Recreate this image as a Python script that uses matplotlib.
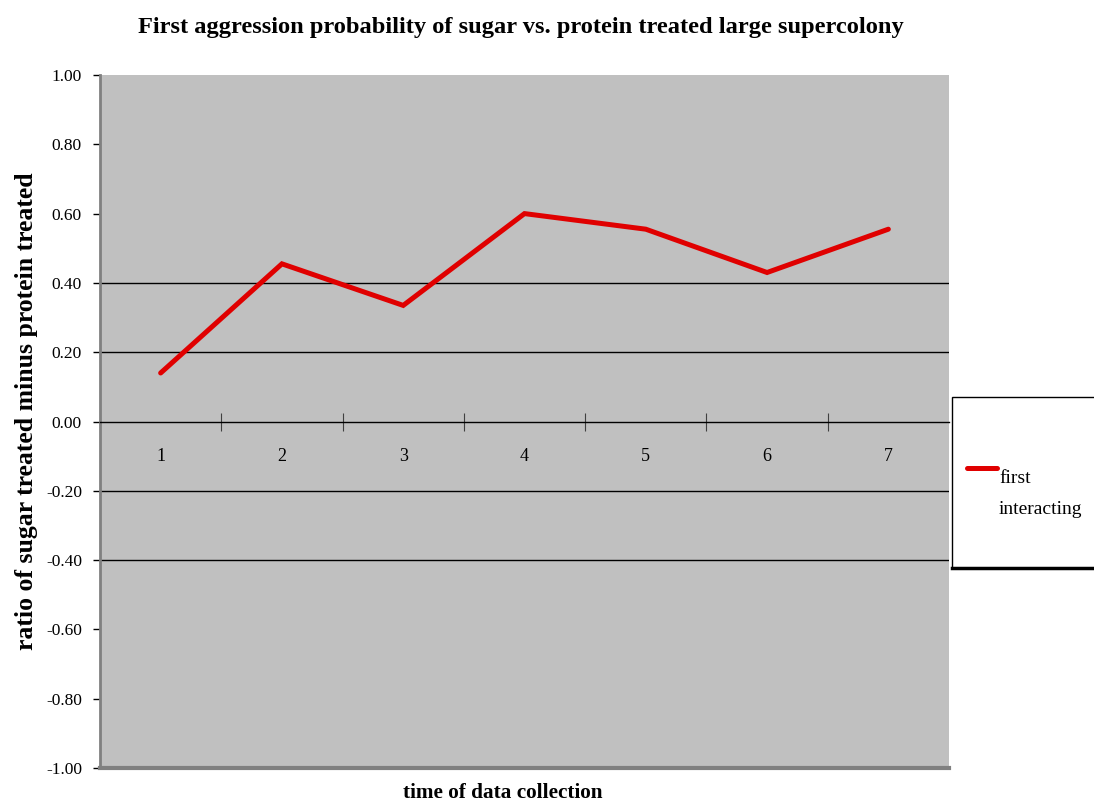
import matplotlib
matplotlib.use("Agg")
import matplotlib.pyplot as plt
from matplotlib.patches import Rectangle
from matplotlib.lines import Line2D

# collection rounds and sugar-minus-protein ratio of first aggression
rounds = [1, 2, 3, 4, 5, 6, 7]
ratio = [0.14, 0.455, 0.335, 0.60, 0.555, 0.43, 0.555]
series_label = "first\ninteracting"

y_ticks = [-1.0, -0.8, -0.6, -0.4, -0.2, 0.0, 0.2, 0.4, 0.6, 0.8, 1.0]
grid_levels = [-0.4, -0.2, 0.2, 0.4]

plt.rcParams["font.family"] = ["Liberation Serif", "DejaVu Serif"]

W, H = 1094, 810
fig = plt.figure(figsize=(W / 100, H / 100), dpi=100)
fig.patch.set_facecolor("white")

# plot area in pixel units
left, right, top, bottom = 100, 949, 75, 768
ax = fig.add_axes([left / W, 1 - bottom / H, (right - left) / W, (bottom - top) / H])
ax.set_facecolor("#C0C0C0")

ax.set_ylim(-1.0, 1.0)
ax.set_xlim(rounds[0] - 0.5, rounds[-1] + 0.5)

for lvl in grid_levels:
    ax.axhline(lvl, color="black", lw=1.0, zorder=1)

ax.plot(rounds, ratio, color="#E00000", lw=3.6, solid_capstyle="round",
        solid_joinstyle="miter", zorder=3)

# category axis sits on y = 0 with ticks between categories
ax.spines["bottom"].set_position(("data", 0))
ax.spines["bottom"].set_color("black")
ax.spines["bottom"].set_linewidth(1.0)
ax.spines["top"].set_visible(False)
ax.spines["right"].set_visible(False)
ax.spines["left"].set_color("#808080")
ax.spines["left"].set_linewidth(2.0)

ax.set_xticks([r + 0.5 for r in rounds[:-1]])
ax.set_xticklabels([])
ax.tick_params(axis="x", which="major", direction="inout", length=13,
               width=0.8, color="#404040")
ax.set_xticks(rounds, minor=True)
ax.set_xticklabels([str(r) for r in rounds], minor=True)
ax.tick_params(axis="x", which="minor", length=0, pad=19, labelsize=13)

ax.set_yticks(y_ticks)
ax.set_yticklabels([f"{v:.2f}" for v in y_ticks])
ax.tick_params(axis="y", direction="out", length=5, width=1.0, color="black",
               labelsize=12.5, pad=8)

# heavy lower border of the plot area
ax.axhline(-1.0, color="#808080", lw=3.0, clip_on=False, zorder=4)

fig.text(521 / W, 1 - 27 / H, "First aggression probability of sugar vs. protein treated large supercolony",
         ha="center", va="center", fontsize=17.6, fontweight="bold")
fig.text(27 / W, 1 - 411 / H, "ratio of sugar treated minus protein treated",
         ha="center", va="center", rotation=90, fontsize=18.5, fontweight="bold")
fig.text(503 / W, 1 - 793 / H, "time of data collection",
         ha="center", va="center", fontsize=15.3, fontweight="bold")

# legend box drawn in figure pixels
lx0, ly0, lx1, ly1 = 952, 397, 1100, 568
fig.patches.append(Rectangle((lx0 / W, 1 - ly1 / H), (lx1 - lx0) / W, (ly1 - ly0) / H,
                             transform=fig.transFigure, facecolor="white",
                             edgecolor="black", lw=1.0, zorder=5))
fig.lines.append(Line2D([lx0 / W, lx1 / W], [1 - ly1 / H, 1 - ly1 / H],
                        transform=fig.transFigure, color="black", lw=2.5, zorder=6))
fig.lines.append(Line2D([967 / W, 997 / W], [1 - 468 / H, 1 - 468 / H],
                        transform=fig.transFigure, color="#E00000", lw=3.6,
                        solid_capstyle="round", zorder=6))
fig.text(999 / W, 1 - 494 / H, series_label, ha="left", va="center",
         fontsize=14, linespacing=2.05, zorder=7)

fig.savefig("out.png", dpi=100)
